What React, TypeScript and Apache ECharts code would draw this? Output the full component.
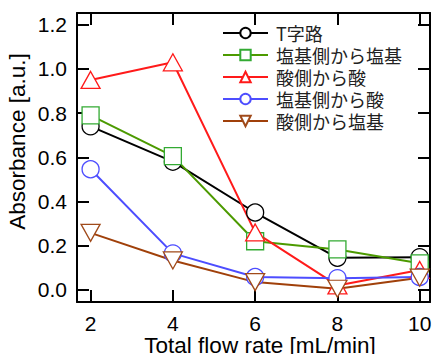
import React, { useEffect, useRef } from "react";
import * as echarts from "echarts";

const flowRates = [2, 4, 6, 8, 10];
const seriesNames = ["T字路", "塩基側から塩基", "酸側から酸", "塩基側から酸", "酸側から塩基"];
const tJunction = [0.74, 0.58, 0.35, 0.145, 0.148];
const baseToBase = [0.79, 0.605, 0.22, 0.183, 0.12];
const acidToAcid = [0.95, 1.03, 0.26, 0.02, 0.09];
const baseToAcid = [0.546, 0.165, 0.058, 0.053, 0.058];
const acidToBase = [0.258, 0.133, 0.035, 0.005, 0.055];
const xTicks = [2, 4, 6, 8, 10];
const yTicks = [0, 0.2, 0.4, 0.6, 0.8, 1.0, 1.2];

const FONT = "Liberation Sans, Arial, sans-serif";
const CJK = "Noto Sans CJK JP";

export default function App() {
  const ref = useRef<HTMLDivElement>(null);
  useEffect(() => {
    if (!ref.current) return;
    const chart = echarts.init(ref.current, undefined, { renderer: "svg" });
    const values = [tJunction, baseToBase, acidToAcid, baseToAcid, acidToBase];
    const lineColors = ["#000000", "#4c9a00", "#ff1a1a", "#4d4dff", "#a0400a"];
    const markColors = ["#000000", "#33aa33", "#ff1a1a", "#4d4dff", "#a04a1a"];
    const symbols = ["circle", "rect", "triangle", "circle", "triangle"];
    const rot = [0, 0, 0, 0, 180];
    const xBase = {
      type: "value",
      min: 1.67,
      max: 10.25,
      splitLine: { show: false },
      axisLine: { show: true, onZero: false, lineStyle: { color: "#000", width: 2 } },
      axisTick: { show: true, inside: true, length: 12, customValues: xTicks, lineStyle: { color: "#000", width: 2 } },
    };
    const yBase = {
      type: "value",
      min: -0.055,
      max: 1.253,
      splitLine: { show: false },
      axisLine: { show: true, onZero: false, lineStyle: { color: "#000", width: 2 } },
      axisTick: { show: true, inside: true, length: 12, customValues: yTicks, lineStyle: { color: "#000", width: 2 } },
    };
    chart.setOption({
      animation: false,
      backgroundColor: "#fff",
      grid: { left: 77, right: 3, top: 13, bottom: 52, containLabel: false, outerBoundsMode: "none" },
      xAxis: [
        {
          ...xBase,
          position: "bottom",
          axisLabel: {
            customValues: xTicks,
            margin: 11,
            color: "#000",
            fontSize: 21,
            fontFamily: FONT,
            formatter: (v: number) => String(v),
          },
          name: "Total flow rate [mL/min]",
          nameLocation: "middle",
          nameGap: 32,
          nameMoveOverlap: false,
          nameTextStyle: { color: "#000", fontSize: 22.5, fontFamily: FONT, padding: [0, 0, 0, 13] },
        },
        { ...xBase, position: "top", axisLabel: { show: false } },
      ],
      yAxis: [
        {
          ...yBase,
          position: "left",
          axisLabel: {
            customValues: yTicks,
            margin: 10,
            color: "#000",
            fontSize: 21,
            fontFamily: FONT,
            formatter: (v: number) => v.toFixed(1),
          },
          name: "Absorbance [a.u.]",
          nameLocation: "middle",
          nameGap: 48,
          nameMoveOverlap: false,
          nameTextStyle: { color: "#000", fontSize: 22.5, fontFamily: FONT, padding: [0, 0, 0, 32] },
        },
        { ...yBase, position: "right", axisLabel: { show: false } },
      ],
      legend: {
        orient: "vertical",
        left: 217,
        top: 18,
        itemWidth: 45,
        itemHeight: 13,
        itemGap: 2,
        textStyle: { color: "#222", fontSize: 18, lineHeight: 20, fontFamily: CJK, padding: [0, 0, 0, 3] },
        data: seriesNames,
      },
      series: values.map((vals, i) => ({
        type: "line",
        name: seriesNames[i],
        xAxisIndex: 0,
        yAxisIndex: 0,
        data: flowRates.map((x, j) => [x, vals[j]]),
        symbol: symbols[i],
        symbolRotate: rot[i],
        symbolSize: i === 2 || i === 4 ? [19, 17] : 17,
        color: lineColors[i],
        lineStyle: { color: lineColors[i], width: 2 },
        itemStyle: { color: "#fff", borderColor: markColors[i], borderWidth: 1.3 },
      })),
    });
    return () => chart.dispose();
  }, []);
  return <div ref={ref} style={{ width: 433, height: 354, position: "absolute", left: 0, top: 0 }} />;
}
